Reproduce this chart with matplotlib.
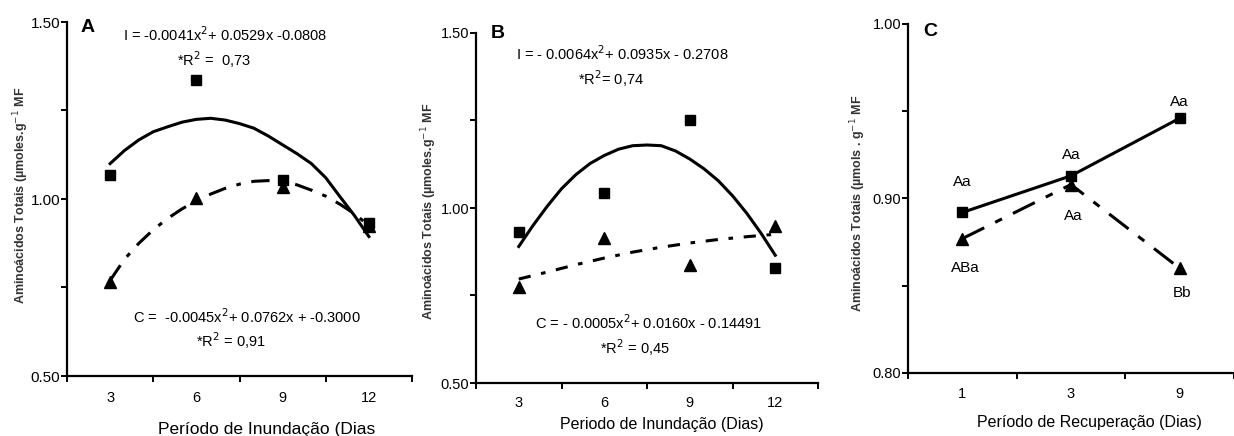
import matplotlib
matplotlib.use("Agg")
import matplotlib.pyplot as plt
import numpy as np

plt.rcParams['font.family'] = ['Liberation Sans', 'DejaVu Sans']

# ---------------- data ----------------
days_AB = ['3', '6', '9', '12']
A_I = [1.068, 1.335, 1.054, 0.932]
A_C = [0.765, 1.002, 1.035, 0.925]
B_I = [0.93, 1.043, 1.25, 0.829]
B_C = [0.774, 0.915, 0.837, 0.949]

# trend lines (days, value)
fit_days_half = [3, 3.5, 4, 4.5, 5, 5.5, 6, 6.5, 7, 7.5, 8, 8.5, 9, 9.5, 10, 10.5, 11, 11.5, 12]
A_I_fit = [1.100, 1.137, 1.167, 1.190, 1.204, 1.217, 1.225, 1.228, 1.223, 1.213,
           1.200, 1.178, 1.153, 1.128, 1.100, 1.060, 1.006, 0.953, 0.894]
A_C_fit = [0.770, 0.830, 0.875, 0.913, 0.945, 0.972, 0.995, 1.014, 1.030, 1.042,
           1.050, 1.052, 1.050, 1.040, 1.025, 1.008, 0.985, 0.958, 0.925]
B_I_fit = [0.890, 0.950, 1.005, 1.055, 1.095, 1.127, 1.150, 1.168, 1.178, 1.180,
           1.178, 1.163, 1.140, 1.112, 1.078, 1.035, 0.985, 0.928, 0.865]
fit_days = [3, 4, 5, 6, 7, 8, 9, 10, 11, 12]
B_C_fit = [0.797, 0.817, 0.838, 0.857, 0.874, 0.888, 0.900, 0.910, 0.918, 0.925]

days_C = ['1', '3', '9']
C_I = [0.892, 0.913, 0.946]
C_C = [0.877, 0.908, 0.860]
C_I_labels = ['Aa', 'Aa', 'Aa']
C_C_labels = ['ABa', 'Aa', 'Bb']

eqA_I = 'I = -0.0041x$^2$+ 0.0529x -0.0808'
eqA_I_r2 = '*R$^2$ =  0,73'
eqA_C = 'C =  -0.0045x$^2$+ 0.0762x + -0.3000'
eqA_C_r2 = '*R$^2$ = 0,91'
eqB_I = 'I = - 0.0064x$^2$+ 0.0935x - 0.2708'
eqB_I_r2 = '*R$^2$= 0,74'
eqB_C = 'C = - 0.0005x$^2$+ 0.0160x - 0.14491'
eqB_C_r2 = '*R$^2$ = 0,45'

ylabel_AB = 'Aminoácidos Totais (µmoles.g$^{-1}$ MF'
ylabel_C = 'Aminoácidos Totais (µmols . g$^{-1}$ MF'

# ---------------- layout ----------------
W, H = 1234, 436
fig = plt.figure(figsize=(W / 100, H / 100), dpi=100)


def rect(l, r, t, b):
    return [l / W, 1 - b / H, (r - l) / W, (b - t) / H]


def fpos(x, y):
    return x / W, 1 - y / H


def style_axes(ax, ncat, xlim_right, ylim, yticks, ylabels, xlabels, pad_x, yfs=10.5):
    ax.set_xlim(0, xlim_right)
    ax.set_ylim(*ylim)
    for s in ['top', 'right']:
        ax.spines[s].set_visible(False)
    for s in ['left', 'bottom']:
        ax.spines[s].set_linewidth(1.6)
    ax.set_xticks(np.arange(ncat + 1))
    ax.set_xticklabels([])
    ax.set_xticks(np.arange(ncat) + 0.5, minor=True)
    ax.set_xticklabels(xlabels, minor=True, fontsize=10.5)
    ax.tick_params(axis='x', which='major', length=4, width=1.4, direction='out')
    ax.tick_params(axis='x', which='minor', length=0, pad=pad_x)
    ax.set_yticks(yticks)
    ax.set_yticklabels(ylabels, fontsize=yfs)
    ax.tick_params(axis='y', length=4, width=1.4, pad=1)


def day_pos(d, first, step):
    return 0.5 + (np.asarray(d, dtype=float) - first) / step


# ---------- Panel A ----------
axA = fig.add_axes(rect(67, 412, 22, 376))
style_axes(axA, 4, 4, (0.5, 1.5), [0.5, 0.75, 1.0, 1.25, 1.5],
           ['0.50', '', '1.00', '', '1.50'], days_AB, 11, yfs=11)
xA = np.arange(len(days_AB)) + 0.5
axA.plot(day_pos(fit_days_half, 3, 3), A_I_fit, color='black', lw=2.2)
axA.plot(day_pos(fit_days_half, 3, 3), A_C_fit, color='black', lw=2.2,
         linestyle=(0, (6, 3.5, 1.5, 3.5)))
axA.plot(xA, A_I, 's', color='black', ms=7.5, clip_on=False)
axA.plot(xA, A_C, '^', color='black', ms=8, clip_on=False)

fig.text(*fpos(88, 27), 'A', fontsize=14, fontweight='bold', ha='center', va='center')
fig.text(*fpos(225, 35), eqA_I, fontsize=10.5, ha='center', va='center')
fig.text(*fpos(214, 60), eqA_I_r2, fontsize=10.5, ha='center', va='center')
fig.text(*fpos(247, 317), eqA_C, fontsize=10.5, ha='center', va='center')
fig.text(*fpos(231, 341), eqA_C_r2, fontsize=10.5, ha='center', va='center')
fig.text(*fpos(267, 429), 'Período de Inundação (Dias', fontsize=12.5, ha='center', va='center')
fig.text(*fpos(21, 195), ylabel_AB, fontsize=9, fontweight='bold', color='#333333',
         rotation=90, ha='center', va='center')

# ---------- Panel B ----------
axB = fig.add_axes(rect(476, 818, 33, 383))
style_axes(axB, 4, 4, (0.5, 1.5), [0.5, 0.75, 1.0, 1.25, 1.5],
           ['0.50', '', '1.00', '', '1.50'], days_AB, 9)
xB = np.arange(len(days_AB)) + 0.5
axB.plot(day_pos(fit_days_half, 3, 3), B_I_fit, color='black', lw=2.2)
axB.plot(day_pos(fit_days, 3, 3), B_C_fit, color='black', lw=2.2,
         linestyle=(0, (4, 3.5, 1.5, 3.5)))
axB.plot(xB, B_I, 's', color='black', ms=7.5, clip_on=False)
axB.plot(xB, B_C, '^', color='black', ms=8, clip_on=False)

fig.text(*fpos(498, 33), 'B', fontsize=14, fontweight='bold', ha='center', va='center')
fig.text(*fpos(622, 54), eqB_I, fontsize=10.5, ha='center', va='center')
fig.text(*fpos(611, 79), eqB_I_r2, fontsize=10.5, ha='center', va='center')
fig.text(*fpos(649, 323), eqB_C, fontsize=10.5, ha='center', va='center')
fig.text(*fpos(635, 348), eqB_C_r2, fontsize=10.5, ha='center', va='center')
fig.text(*fpos(662, 424), 'Periodo de Inundação (Dias)', fontsize=11.5, ha='center', va='center')
fig.text(*fpos(429, 211), ylabel_AB, fontsize=9, fontweight='bold', color='#333333',
         rotation=90, ha='center', va='center')

# ---------- Panel C ----------
axC = fig.add_axes(rect(908, 1234, 24, 373))
style_axes(axC, 3, 2.95, (0.8, 1.0), [0.8, 0.85, 0.9, 0.95, 1.0],
           ['0.80', '', '0.90', '', '1.00'], days_C, 10)
xC = np.arange(len(days_C)) + 0.5
axC.plot(xC, C_I, '-s', color='black', lw=2.2, ms=7.5, clip_on=False)
axC.plot(xC, C_C, '^', color='black', ms=8, clip_on=False,
         linestyle=(0, (8, 4, 2.5, 4)), lw=2.2)

offs_I = [30, 21, 16]
offs_C = [-29, -31, -25]
for x, y, t, o in zip(xC, C_I, C_I_labels, offs_I):
    axC.annotate(t, (x, y), xytext=(0, o / 1.389), textcoords='offset points',
                 ha='center', va='center', fontsize=11)
for x, y, t, o in zip(xC, C_C, C_C_labels, offs_C):
    axC.annotate(t, (x, y), xytext=(2, o / 1.389), textcoords='offset points',
                 ha='center', va='center', fontsize=11)

fig.text(*fpos(930, 32), 'C', fontsize=14, fontweight='bold', ha='center', va='center')
fig.text(*fpos(1089, 422), 'Período de Recuperação (Dias)', fontsize=11.5, ha='center', va='center')
fig.text(*fpos(858, 203), ylabel_C, fontsize=9, fontweight='bold', color='#333333',
         rotation=90, ha='center', va='center')

fig.savefig('out.png', dpi=100)
